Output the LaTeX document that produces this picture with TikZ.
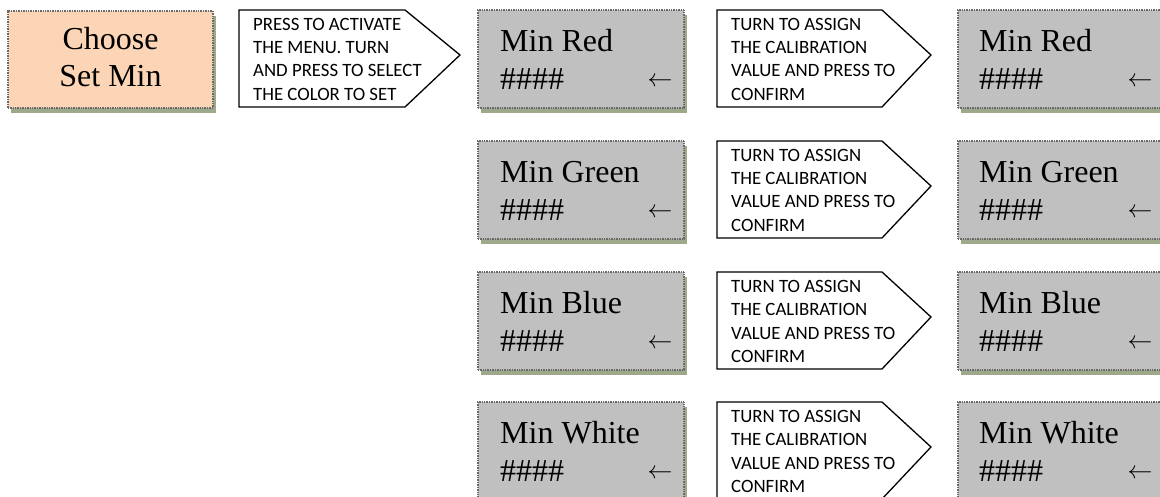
\documentclass[tikz,border=0pt]{standalone}
\usepackage{fontspec}
\setmainfont{Liberation Serif}
\newfontfamily\calfont{Carlito}
\usetikzlibrary{shadows}
\definecolor{boxgray}{RGB}{192,192,192}
\definecolor{peach}{RGB}{251,213,181}
\definecolor{shadowcol}{RGB}{158,168,138}
\definecolor{dotcol}{RGB}{105,105,105}
\tikzset{
  menubox/.style={rectangle, draw=dotcol, line width=1.3pt, dash pattern=on 1pt off 0.7pt,
    fill=boxgray, minimum width=206pt, minimum height=98pt, inner sep=0pt, outer sep=0pt,
    anchor=north west, general shadow={fill=shadowcol, shadow xshift=3pt, shadow yshift=-5pt}},
  choosebox/.style={menubox, fill=peach, minimum width=205pt, minimum height=97pt},
  btxt/.style={inner sep=0pt, anchor=base west, font=\fontsize{32}{38}\selectfont},
  ctxt/.style={btxt, anchor=base},
  arrtxt/.style={inner sep=0pt, anchor=center, font=\fontsize{30}{36}\selectfont},
  callline/.style={draw=black, line width=1.3pt, line join=miter, fill=white},
  caltext/.style={inner sep=0pt, anchor=north west, align=left,
    font=\calfont\fontsize{18.8}{23.3}\selectfont}
}
\newcommand\mycallout[6]{%
  \draw[callline] (#1,#2) -- (#3,#2) -- (#4,#2+45) -- (#3,#2+97) -- (#1,#2+97) -- cycle;
  \node[caltext] (#5) at (#1+14,#2+8) {#6};
}
\begin{document}
\begin{tikzpicture}[x=1pt,y=-1pt]
\useasboundingbox (0,0) rectangle (1160,497);
\clip (0,0) rectangle (1160,497);
% Choose box
\node[choosebox] (choose) at (8,11) {};
\node[ctxt] (choose1) at (110.5,50) {Choose};
\node[ctxt] (choose2) at (110.5,87) {Set Min};
% first callout
\mycallout{239}{10}{405}{460}{call0}{PRESS TO ACTIVATE\\THE MENU. TURN\\AND PRESS TO SELECT\\THE COLOR TO SET}
% rows
\foreach \n/\c/\t in {1/Red/10, 2/Green/141, 3/Blue/272, 4/White/402}{
  \node[menubox] (m\n) at (478,\t) {};
  \node[btxt] (m\n a) at ([shift={(22,41.5)}]m\n.north west) {Min \c};
  \node[btxt] (m\n b) at ([shift={(22,79.5)}]m\n.north west) {\#\#\#\#};
  \node[arrtxt] (m\n c) at ([shift={(182,72)}]m\n.north west) {$\leftarrow$};
  \mycallout{717}{\t}{882}{931}{c\n}{TURN TO ASSIGN\\THE CALIBRATION\\VALUE AND PRESS TO\\CONFIRM}
  \node[menubox] (r\n) at (958,\t) {};
  \node[btxt] (r\n a) at ([shift={(21,41.5)}]r\n.north west) {Min \c};
  \node[btxt] (r\n b) at ([shift={(21,79.5)}]r\n.north west) {\#\#\#\#};
  \node[arrtxt] (r\n c) at ([shift={(182,72)}]r\n.north west) {$\leftarrow$};
}
\end{tikzpicture}
\end{document}
